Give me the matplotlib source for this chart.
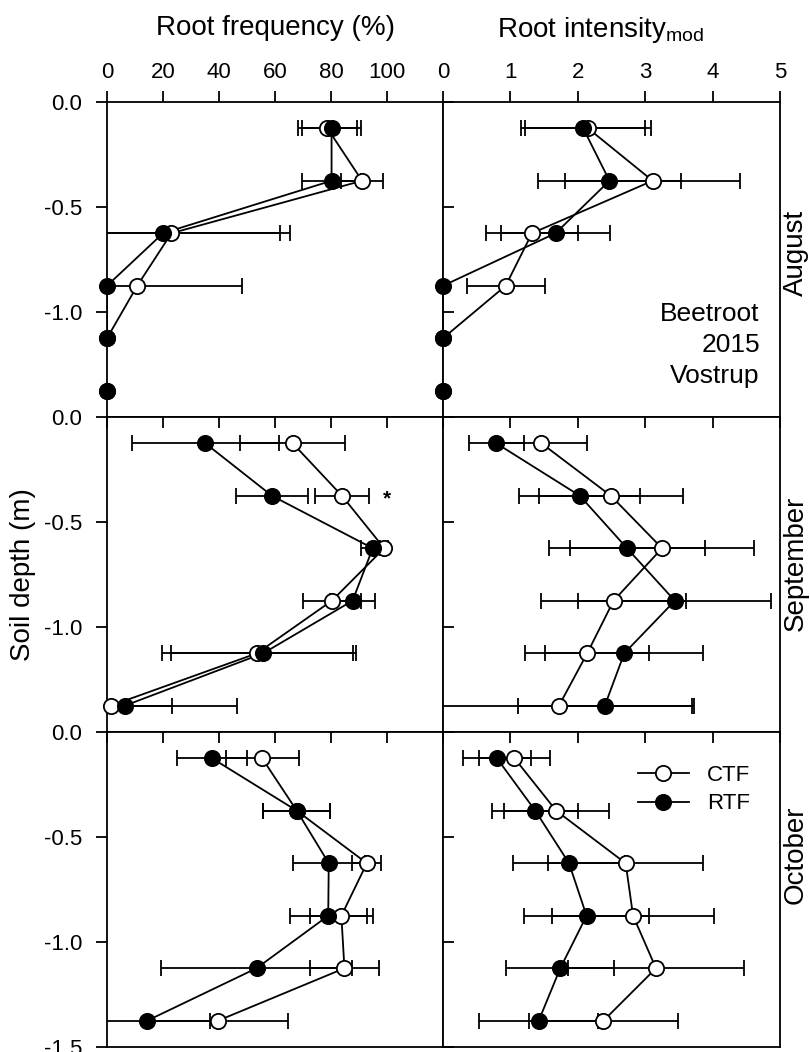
import matplotlib
matplotlib.use("Agg")
import matplotlib.pyplot as plt
from matplotlib.lines import Line2D

plt.rcParams['font.family'] = ['Liberation Sans', 'DejaVu Sans']
plt.rcParams['axes.unicode_minus'] = False

# soil depth of each sampling layer (m)
depth = [-0.125, -0.375, -0.625, -0.875, -1.125, -1.375]

# August
aug_freq_ctf = [78.7, 91.1, 23.0, 10.8, 0, 0]
aug_freq_ctf_se = [10.6, 7.4, 42.4, 37.3, 0, 0]
aug_freq_rtf = [80.2, 80.2, 20.0, 0, 0, 0]
aug_freq_rtf_se = [10.5, 10.5, 41.8, 0, 0, 0]
aug_int_ctf = [2.15, 3.11, 1.32, 0.93, 0, 0]
aug_int_ctf_se = [0.94, 1.30, 0.68, 0.58, 0, 0]
aug_int_rtf = [2.08, 2.47, 1.67, 0, 0, 0]
aug_int_rtf_se = [0.92, 1.06, 0.81, 0, 0, 0]

# September
sep_freq_ctf = [66.3, 83.9, 99.0, 80.3, 53.6, 1.3]
sep_freq_ctf_se = [18.7, 9.6, 1.4, 10.4, 34.1, 21.9]
sep_freq_rtf = [35.1, 58.9, 94.9, 87.7, 55.8, 6.3]
sep_freq_rtf_se = [26.2, 12.8, 4.2, 8.0, 33.1, 40.2]
sep_int_ctf = [1.46, 2.49, 3.25, 2.53, 2.14, 1.72]
sep_int_ctf_se = [0.68, 1.07, 1.37, 1.08, 0.92, 2.0]
sep_int_rtf = [0.79, 2.03, 2.73, 3.44, 2.69, 2.40]
sep_int_rtf_se = [0.41, 0.90, 1.16, 1.43, 1.17, 1.29]

# October
oct_freq_ctf = [55.4, 67.8, 92.8, 83.7, 84.8, 39.6]
oct_freq_ctf_se = [13.0, 12.0, 5.2, 11.2, 12.3, 25.2]
oct_freq_rtf = [37.5, 67.8, 79.2, 79.0, 53.4, 14.3]
oct_freq_rtf_se = [12.6, 12.0, 12.9, 13.7, 34.0, 22.4]
oct_int_ctf = [1.06, 1.68, 2.71, 2.82, 3.16, 2.38]
oct_int_ctf_se = [0.53, 0.78, 1.15, 1.20, 1.31, 1.10]
oct_int_rtf = [0.80, 1.37, 1.87, 2.13, 1.74, 1.42]
oct_int_rtf_se = [0.50, 0.64, 0.83, 0.93, 0.80, 0.88]

months = ["August", "September", "October"]
freq_xticks = [0, 20, 40, 60, 80, 100]
int_xticks = [0, 1, 2, 3, 4, 5]

W, H = 810, 1052
fig = plt.figure(figsize=(W / 100, H / 100), dpi=100)


def box(x0, y0, x1, y1):
    return [x0 / W, 1 - y1 / H, (x1 - x0) / W, (y1 - y0) / H]


def draw(ax, ctf, ctf_se, rtf, rtf_se, n_line=6):
    for vals, se in [(ctf, ctf_se), (rtf, rtf_se)]:
        ax.errorbar(vals, depth, xerr=se, fmt='none', ecolor='black',
                    elinewidth=1.3, capsize=5.5, capthick=1.3, zorder=2)
    for vals in [ctf, rtf]:
        ax.plot(vals[:n_line], depth[:n_line], color='black', lw=1.3, zorder=3)
    ax.plot(ctf, depth, 'o', ms=11, mfc='white', mec='black', mew=1.3,
            zorder=4, clip_on=False)
    ax.plot(rtf, depth, 'o', ms=11, mfc='black', mec='black', mew=1.3,
            zorder=5, clip_on=False)


data = [
    [(aug_freq_ctf, aug_freq_ctf_se, aug_freq_rtf, aug_freq_rtf_se),
     (aug_int_ctf, aug_int_ctf_se, aug_int_rtf, aug_int_rtf_se)],
    [(sep_freq_ctf, sep_freq_ctf_se, sep_freq_rtf, sep_freq_rtf_se),
     (sep_int_ctf, sep_int_ctf_se, sep_int_rtf, sep_int_rtf_se)],
    [(oct_freq_ctf, oct_freq_ctf_se, oct_freq_rtf, oct_freq_rtf_se),
     (oct_int_ctf, oct_int_ctf_se, oct_int_rtf, oct_int_rtf_se)],
]

col_x = [(107, 443), (443, 780)]
row_y = [(102, 417), (417, 732), (732, 1047)]
axes = []

for r in range(3):
    row_axes = []
    for c in range(2):
        ax = fig.add_axes(box(col_x[c][0], row_y[r][0], col_x[c][1], row_y[r][1]))
        n_line = 5 if r == 0 else 6  # last August layer is not joined
        draw(ax, *data[r][c], n_line=n_line)
        ax.set_ylim(-1.5, 0)
        if c == 0:
            ax.set_xlim(0, 120)
            ax.set_xticks(freq_xticks)
        else:
            ax.set_xlim(0, 5)
            ax.set_xticks(int_xticks)
        yt = [0, -0.5, -1.0, -1.5] if r == 2 else [0, -0.5, -1.0]
        ax.set_yticks(yt)
        ax.set_yticklabels(['%.1f' % v for v in yt])
        for s in ax.spines.values():
            s.set_linewidth(1.3)
        ax.xaxis.tick_top()
        if r == 0:
            ax.tick_params(axis='x', direction='out', length=8, width=1.3,
                           labelsize=16, pad=6, labeltop=True)
        else:
            ax.tick_params(axis='x', direction='in', length=8, width=1.3,
                           labeltop=False)
        if c == 0:
            ax.tick_params(axis='y', direction='out', length=8, width=1.3,
                           labelsize=16, pad=10)
        else:
            ax.tick_params(axis='y', direction='in', length=8, width=1.3,
                           labelleft=False)
        row_axes.append(ax)
    axes.append(row_axes)

# significance mark
axes[1][0].text(100, -0.39, '*', fontsize=15, fontweight='bold',
                ha='center', va='center')

axes[0][1].text(0.94, 0.365, "Beetroot\n2015\nVostrup", transform=axes[0][1].transAxes,
                ha='right', va='top', fontsize=19, linespacing=1.38)

handles = [Line2D([], [], color='black', lw=1.3, marker='o', ms=11,
                  mfc='white', mec='black', mew=1.3),
           Line2D([], [], color='black', lw=1.3, marker='o', ms=11,
                  mfc='black', mec='black', mew=1.3)]
axes[2][1].legend(handles, ["CTF", "RTF"], loc='upper right', frameon=False,
                  fontsize=16, handlelength=2.3, labelspacing=0.35,
                  bbox_to_anchor=(0.97, 0.96))

month_y = [253, 563, 855]
for r in range(3):
    fig.text(796 / W, 1 - month_y[r] / H, months[r], rotation=90, ha='center',
             va='center', fontsize=20)

fig.text(275 / W, 1 - 28 / H, "Root frequency (%)", ha='center', va='center',
         fontsize=20)
fig.text(601 / W, 1 - 30 / H, r"Root intensity$_{\mathregular{mod}}$",
         ha='center', va='center', fontsize=20)
fig.text(23 / W, 1 - 575 / H, "Soil depth (m)", rotation=90, ha='center',
         va='center', fontsize=20)

plt.savefig("out.png", dpi=100)
